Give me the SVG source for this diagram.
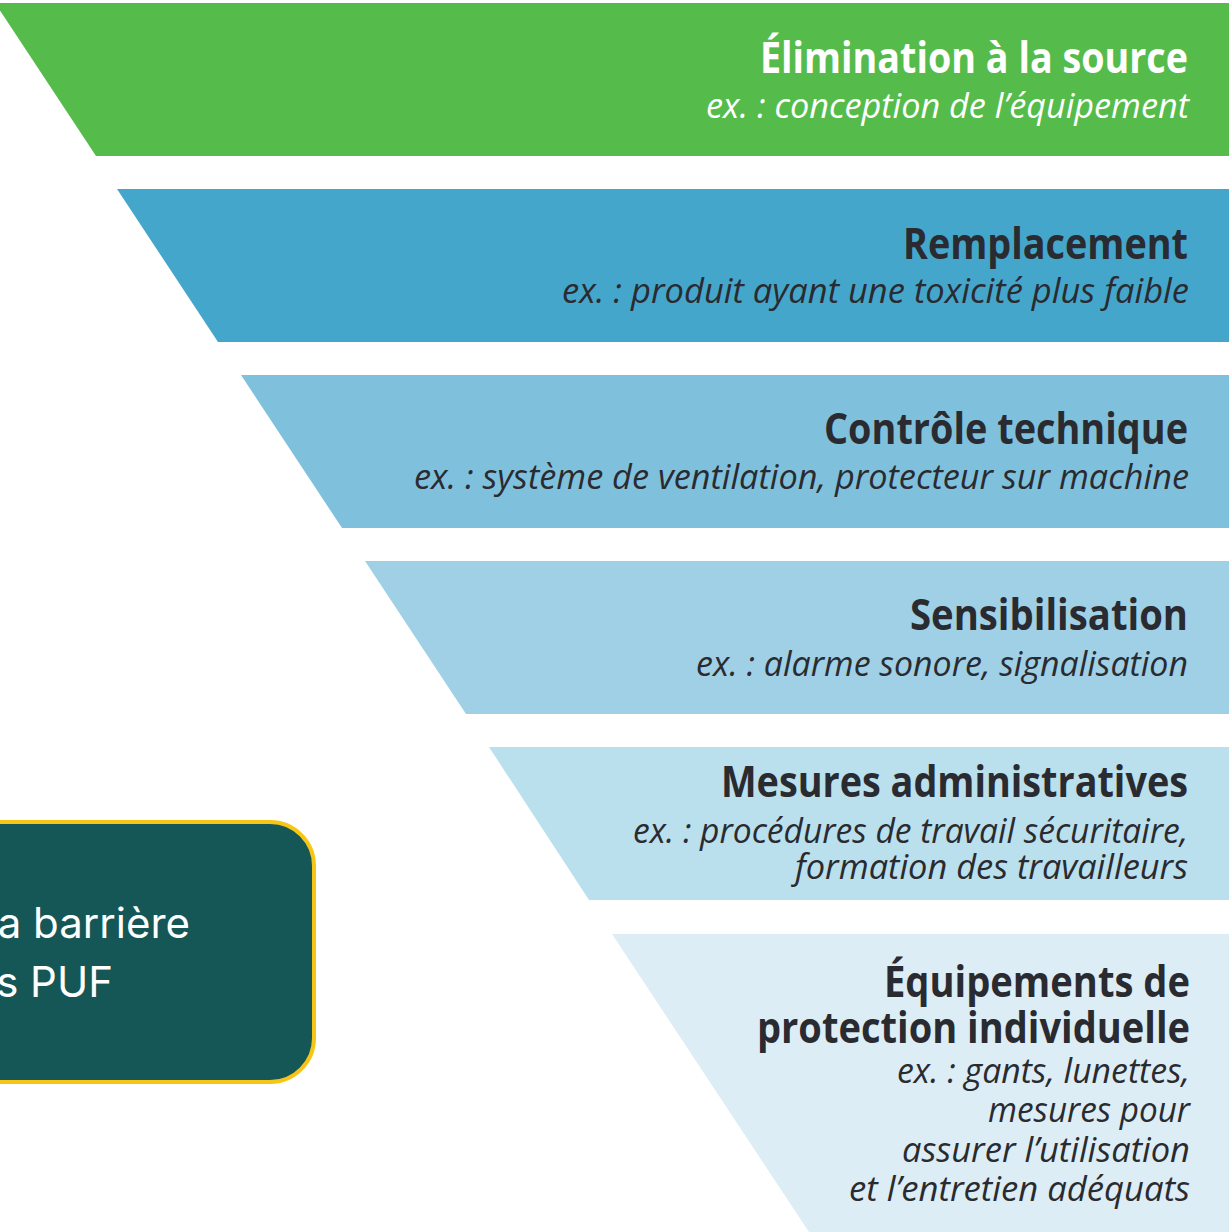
<svg xmlns="http://www.w3.org/2000/svg" width="1229" height="1232" viewBox="0 0 1229 1232">
  <style>
    .title { font-family: "Open Sans", "Liberation Sans", sans-serif; font-weight: 700; font-size: 43px; fill: #2a2b30; }
    .sub { font-family: "Open Sans", "Liberation Sans", sans-serif; font-style: italic; font-weight: 400; font-size: 34px; fill: #2a2b30; }
    .light { fill: #ffffff; }
    .note { font-family: Inter, "Liberation Sans", sans-serif; font-size: 42px; fill: #ffffff; }
  </style>
  <rect x="0" y="0" width="1229" height="1232" fill="#ffffff"/>

  <!-- Level 1: elimination -->
  <g id="elimination">
    <polygon points="-5,3 1229,3 1229,156 96,156" fill="#55bc4b"/>
    <text class="title light" x="760" y="73" textLength="428" lengthAdjust="spacingAndGlyphs">Élimination à la source</text>
    <text class="sub light" x="706" y="118" textLength="483" lengthAdjust="spacingAndGlyphs">ex. : conception de l’équipement</text>
  </g>

  <!-- Level 2: substitution -->
  <g id="remplacement">
    <polygon points="117,189 1229,189 1229,342 218,342" fill="#45a6cb"/>
    <text class="title" x="903" y="259" textLength="285" lengthAdjust="spacingAndGlyphs">Remplacement</text>
    <text class="sub" x="562" y="303" textLength="627" lengthAdjust="spacingAndGlyphs">ex. : produit ayant une toxicité plus faible</text>
  </g>

  <!-- Level 3: engineering controls -->
  <g id="controle-technique">
    <polygon points="241,375 1229,375 1229,528 342,528" fill="#7fc1dd"/>
    <text class="title" x="824" y="444" textLength="364" lengthAdjust="spacingAndGlyphs">Contrôle technique</text>
    <text class="sub" x="414" y="489" textLength="775" lengthAdjust="spacingAndGlyphs">ex. : système de ventilation, protecteur sur machine</text>
  </g>

  <!-- Level 4: awareness -->
  <g id="sensibilisation">
    <polygon points="365,561 1229,561 1229,714 466,714" fill="#9fd0e5"/>
    <text class="title" x="910" y="630" textLength="278" lengthAdjust="spacingAndGlyphs">Sensibilisation</text>
    <text class="sub" x="696" y="676" textLength="492" lengthAdjust="spacingAndGlyphs">ex. : alarme sonore, signalisation</text>
  </g>

  <!-- Level 5: administrative measures -->
  <g id="mesures-administratives">
    <polygon points="489,747 1229,747 1229,900 589,900" fill="#badfed"/>
    <text class="title" x="721" y="797" textLength="467" lengthAdjust="spacingAndGlyphs">Mesures administratives</text>
    <text class="sub" x="633" y="843" textLength="555" lengthAdjust="spacingAndGlyphs">ex. : procédures de travail sécuritaire,</text>
    <text class="sub" x="795" y="879" textLength="393" lengthAdjust="spacingAndGlyphs">formation des travailleurs</text>
  </g>

  <!-- Level 6: personal protective equipment -->
  <g id="equipements-protection">
    <polygon points="612,934 1229,934 1229,1232 809,1232" fill="#dcedf5"/>
    <text class="title" x="884" y="997" textLength="306" lengthAdjust="spacingAndGlyphs">Équipements de</text>
    <text class="title" x="757" y="1043" textLength="433" lengthAdjust="spacingAndGlyphs">protection individuelle</text>
    <text class="sub" x="897" y="1083" textLength="293" lengthAdjust="spacingAndGlyphs">ex. : gants, lunettes,</text>
    <text class="sub" x="988" y="1122" textLength="202" lengthAdjust="spacingAndGlyphs">mesures pour</text>
    <text class="sub" x="902" y="1162" textLength="288" lengthAdjust="spacingAndGlyphs">assurer l’utilisation</text>
    <text class="sub" x="849" y="1201" textLength="341" lengthAdjust="spacingAndGlyphs">et l’entretien adéquats</text>
  </g>

  <!-- Callout box, partly outside the left edge -->
  <g id="callout">
    <rect x="-60" y="822" width="374" height="260" rx="44" ry="44" fill="#155756" stroke="#f7c514" stroke-width="4"/>
    <text class="note" x="190" y="938" text-anchor="end">a barrière</text>
    <text class="note" x="113" y="997" text-anchor="end">s PUF</text>
  </g>

  <g id="connectors"/>
</svg>
